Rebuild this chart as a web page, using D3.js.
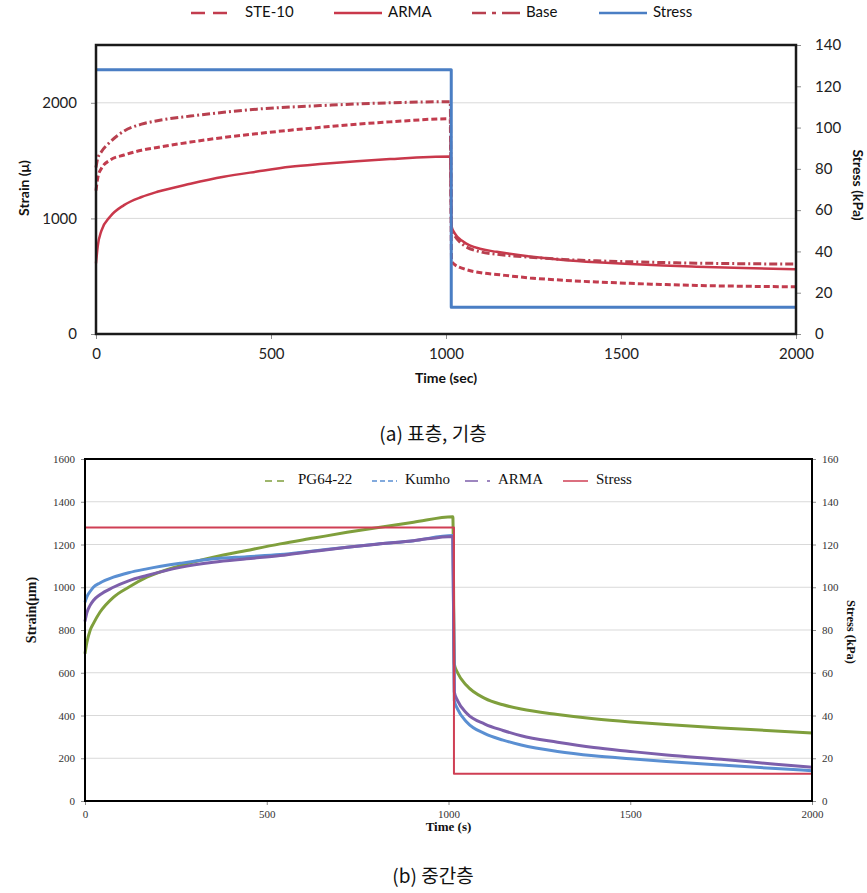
<!DOCTYPE html>
<html>
<head>
<meta charset="utf-8">
<script src="https://cdn.jsdelivr.net/npm/d3@7"></script>
<style>
body { margin: 0; background: #fff; }
svg { display: block; }
</style>
</head>
<body>
<svg id="chart" width="867" height="893"></svg>
<script>
// ---- (a) surface / base layer ----
const timeLoadA = [0, 5, 15, 40, 80, 130, 175, 270, 365, 460, 555, 650, 745, 840, 1012];
const timeRecA = [1016, 1025, 1050, 1100, 1145, 1240, 1335, 1430, 1526, 1620, 1716, 1850, 2000];

const ste10Load = [1240, 1350, 1430, 1504, 1548, 1590, 1614, 1660, 1700, 1733, 1763, 1790, 1815, 1835, 1862];
const ste10Rec = [630, 600, 565, 530, 515, 485, 465, 450, 438, 428, 420, 413, 408];
const armaLoadA = [610, 760, 890, 1014, 1115, 1185, 1230, 1300, 1360, 1405, 1446, 1472, 1495, 1513, 1535];
const armaRecA = [930, 870, 798, 735, 711, 670, 640, 620, 605, 592, 582, 570, 559];
const baseLoad = [1440, 1520, 1575, 1660, 1755, 1815, 1845, 1885, 1918, 1945, 1963, 1977, 1990, 2000, 2010];
const baseRec = [900, 850, 770, 710, 690, 664, 645, 633, 625, 618, 613, 608, 605];

const stressTimeA = [0, 1015, 1015, 2000];
const stressA = [128, 128, 13, 13];

// ---- (b) intermediate layer ----
const timeLoadB = [0, 5, 14, 23, 41, 78, 120, 170, 262, 353, 445, 537, 629, 721, 812, 904, 1012];
const timeRecB = [1016, 1025, 1050, 1100, 1150, 1200, 1300, 1400, 1500, 1600, 1750, 1900, 2000];

const pgLoad = [689, 740, 798, 830, 883, 953, 1000, 1047, 1101, 1140, 1172, 1203, 1230, 1257, 1281, 1304, 1330];
const pgRec = [640, 600, 540, 480, 450, 430, 405, 385, 370, 358, 342, 328, 318];
const kumhoLoad = [930, 955, 980, 1000, 1020, 1047, 1068, 1086, 1112, 1133, 1143, 1153, 1170, 1187, 1203, 1218, 1242];
const kumhoRec = [470, 430, 370, 315, 285, 262, 232, 212, 198, 185, 168, 152, 142];
const armaLoadB = [840, 880, 915, 938, 965, 1000, 1030, 1055, 1093, 1117, 1133, 1148, 1168, 1187, 1203, 1218, 1238];
const armaRecB = [510, 470, 410, 360, 330, 305, 275, 250, 232, 215, 195, 172, 158];

const stressTimeB = [0, 1015, 1015, 2000];
const stressB = [128, 128, 12.8, 12.8];

const timeTicks = [0, 500, 1000, 1500, 2000];

const svg = d3.select('#chart');

function toPoints(times, values) {
    return times.map((t, i) => ({t: t, v: values[i]}));
}

function drawPanel(p) {
    const x = d3.scaleLinear().domain([0, 2000]).range([p.left, p.right]);
    const y = d3.scaleLinear().domain([0, p.strainMax]).range([p.bottom, p.top]);
    const y2 = d3.scaleLinear().domain([0, p.stressMax]).range([p.bottom, p.top]);
    const fmt = d3.format('d');

    const g = svg.append('g');

    // gridlines
    g.selectAll('.grid')
        .data(p.gridValues)
        .join('line')
            .attr('x1', p.left)
            .attr('x2', p.right)
            .attr('y1', d => y(d))
            .attr('y2', d => y(d))
            .style('stroke', '#d9d9d9')
            .style('stroke-width', 1);

    // axes
    const axL = g.append('g')
        .attr('transform', `translate(${p.left},0)`)
        .call(d3.axisLeft(y).tickValues(p.strainTicks).tickFormat(fmt).tickSize(p.tickSize).tickPadding(p.padY));
    const axR = g.append('g')
        .attr('transform', `translate(${p.right},0)`)
        .call(d3.axisRight(y2).tickValues(p.stressTicks).tickFormat(fmt).tickSize(p.tickSize).tickPadding(p.padY));
    const axB = g.append('g')
        .attr('transform', `translate(0,${p.bottom})`)
        .call(d3.axisBottom(x).tickValues(timeTicks).tickFormat(fmt).tickSize(p.tickSize).tickPadding(p.padX));

    [axL, axR, axB].forEach(ax => {
        ax.select('.domain').remove();
        ax.selectAll('line').style('stroke', '#8c8c8c');
        ax.selectAll('text')
            .style('font-family', p.font)
            .style('font-size', p.tickFont + 'px')
            .style('fill', p.tickColor);
    });

    // series
    const line = d3.line()
        .x(d => x(d.t))
        .y(d => (d.axis === 'right' ? y2(d.v) : y(d.v)));

    p.series.forEach(s => {
        const pts = s.points.map(d => ({t: d.t, v: d.v, axis: s.axis}));
        g.append('path')
            .datum(pts)
            .attr('d', line.curve(s.axis === 'right' ? d3.curveLinear : d3.curveMonotoneX))
            .style('fill', 'none')
            .style('stroke', s.color)
            .style('stroke-width', s.width)
            .style('stroke-dasharray', s.dash || null)
            .style('stroke-linejoin', 'round');
    });

    // plot frame
    g.append('rect')
        .attr('x', p.left)
        .attr('y', p.top)
        .attr('width', p.right - p.left)
        .attr('height', p.bottom - p.top)
        .style('fill', 'none')
        .style('stroke', p.frameColor)
        .style('stroke-width', p.frameWidth);

    // axis titles
    g.append('text')
        .attr('transform', `translate(${p.titleLX},${p.titleLY}) rotate(-90)`)
        .style('text-anchor', 'middle')
        .style('dominant-baseline', 'middle')
        .style('font-family', p.font)
        .style('font-weight', 'bold')
        .style('font-size', p.titleFont + 'px')
        .style('fill', '#111')
        .text(p.titleL);

    g.append('text')
        .attr('transform', `translate(${p.titleRX},${p.titleRY}) rotate(90)`)
        .style('text-anchor', 'middle')
        .style('dominant-baseline', 'middle')
        .style('font-family', p.font)
        .style('font-weight', 'bold')
        .style('font-size', p.titleRFont + 'px')
        .style('fill', '#111')
        .text(p.titleR);

    g.append('text')
        .attr('x', (p.left + p.right) / 2)
        .attr('y', p.titleXY)
        .style('text-anchor', 'middle')
        .style('dominant-baseline', 'middle')
        .style('font-family', p.font)
        .style('font-weight', 'bold')
        .style('font-size', p.titleXFont + 'px')
        .style('fill', '#111')
        .text(p.titleX);

    // legend
    const lg = g.append('g');
    p.series.forEach((s, i) => {
        const x0 = p.legendX[i];
        lg.append('line')
            .attr('x1', x0)
            .attr('x2', x0 + p.legendSym)
            .attr('y1', p.legendY)
            .attr('y2', p.legendY)
            .style('stroke', s.color)
            .style('stroke-width', p.legendWidth)
            .style('stroke-dasharray', s.legendDash || null);
        lg.append('text')
            .attr('x', x0 + p.legendSym + p.legendGap)
            .attr('y', p.legendY)
            .style('dominant-baseline', 'middle')
            .style('font-family', p.font)
            .style('font-size', p.legendFont + 'px')
            .style('fill', '#111')
            .text(s.name);
    });

    // caption
    svg.append('text')
        .attr('x', 433)
        .attr('y', p.captionY)
        .style('text-anchor', 'middle')
        .style('dominant-baseline', 'middle')
        .style('font-family', '"Noto Sans CJK KR", "Noto Sans", sans-serif')
        .style('font-size', '19px')
        .style('fill', '#111')
        .text(p.caption);
}

const redA = '#c9384b';
const blueA = '#4a7ec4';

drawPanel({
    left: 96, right: 796, top: 45, bottom: 334,
    strainMax: 2500, stressMax: 140,
    strainTicks: [0, 1000, 2000],
    stressTicks: d3.range(0, 141, 20),
    gridValues: [1000, 2000],
    tickSize: 5, padY: 14, padX: 9,
    font: 'Lato, "Open Sans", sans-serif',
    tickFont: 15, tickColor: '#222',
    frameColor: '#1a1a1a', frameWidth: 2.5,
    titleL: 'Strain (μ)', titleLX: 25, titleLY: 188, titleFont: 14,
    titleR: 'Stress (kPa)', titleRX: 857, titleRY: 185, titleRFont: 14,
    titleX: 'Time (sec)', titleXY: 379, titleXFont: 14,
    legendX: [191, 334, 472, 599], legendY: 13, legendSym: 48, legendGap: 6,
    legendWidth: 2.5, legendFont: 15,
    caption: '(a) 표층, 기층', captionY: 436,
    series: [
        {name: 'STE-10', color: '#c23c4e', width: 3, dash: '6,3', legendDash: '14,8,14,100',
            points: toPoints(timeLoadA.concat(timeRecA), ste10Load.concat(ste10Rec))},
        {name: 'ARMA', color: redA, width: 2.5,
            points: toPoints(timeLoadA.concat(timeRecA), armaLoadA.concat(armaRecA))},
        {name: 'Base', color: '#b8404f', width: 3, dash: '8,3,2,3', legendDash: '14,6,4,6,18',
            points: toPoints(timeLoadA.concat(timeRecA), baseLoad.concat(baseRec))},
        {name: 'Stress', color: blueA, width: 3, axis: 'right',
            points: toPoints(stressTimeA, stressA)}
    ]
});

drawPanel({
    left: 85, right: 812, top: 459, bottom: 801,
    strainMax: 1600, stressMax: 160,
    strainTicks: d3.range(0, 1601, 200),
    stressTicks: d3.range(0, 161, 20),
    gridValues: d3.range(200, 1401, 200),
    tickSize: 4, padY: 6, padX: 5,
    font: '"Liberation Serif", "Times New Roman", serif',
    tickFont: 11, tickColor: '#333',
    frameColor: '#000', frameWidth: 2,
    titleL: 'Strain(μm)', titleLX: 33, titleLY: 610, titleFont: 14,
    titleR: 'Stress (kPa)', titleRX: 850, titleRY: 632, titleRFont: 12.5,
    titleX: 'Time (s)', titleXY: 828, titleXFont: 13,
    legendX: [265, 372, 465, 563], legendY: 481, legendSym: 25, legendGap: 8,
    legendWidth: 1.5, legendFont: 15,
    caption: '(b) 중간층', captionY: 878,
    series: [
        {name: 'PG64-22', color: '#7f9f3c', width: 3, legendDash: '7,5,7,30',
            points: toPoints(timeLoadB.concat(timeRecB), pgLoad.concat(pgRec))},
        {name: 'Kumho', color: '#5a8fd2', width: 3, legendDash: '5,3',
            points: toPoints(timeLoadB.concat(timeRecB), kumhoLoad.concat(kumhoRec))},
        {name: 'ARMA', color: '#7d5fab', width: 3, legendDash: '13,9,3,30',
            points: toPoints(timeLoadB.concat(timeRecB), armaLoadB.concat(armaRecB))},
        {name: 'Stress', color: '#cf3f54', width: 2, axis: 'right',
            points: toPoints(stressTimeB, stressB)}
    ]
});
</script>
</body>
</html>
